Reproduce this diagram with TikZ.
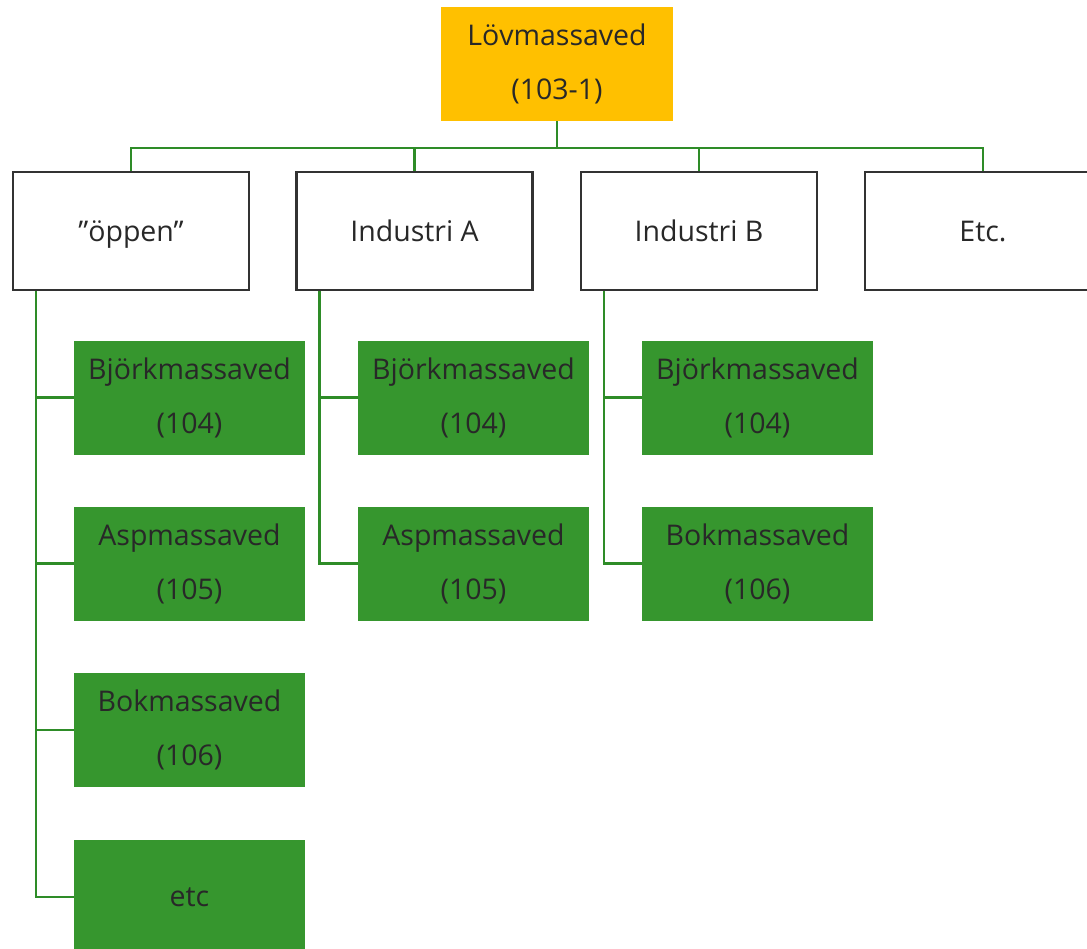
\documentclass[tikz,border=0pt]{standalone}
\usepackage{fontspec}
\setmainfont{Open Sans}
\definecolor{topfill}{RGB}{255,192,0}
\definecolor{leaffill}{RGB}{54,150,46}
\definecolor{linegreen}{RGB}{46,140,40}
\definecolor{boxline}{RGB}{50,50,50}
\definecolor{txt}{RGB}{40,40,40}
\begin{document}
\begin{tikzpicture}[x=1pt,y=-1pt,
  every node/.style={font=\fontsize{28.5}{54}\selectfont, text=txt, align=center, inner sep=0pt},
  topbox/.style={fill=topfill, minimum width=232pt, minimum height=114pt},
  midbox/.style={draw=boxline, line width=2.5pt, fill=white, minimum width=236pt, minimum height=118pt, text height=20.5pt, text depth=0pt},
  leafbox/.style={fill=leaffill, minimum width=231pt, minimum height=114pt},
  conn/.style={draw=linegreen, line width=2.5pt}]
\useasboundingbox (0,0) rectangle (1087,948);
\node[topbox] (top) at (557,64) {Lövmassaved\\(103-1)};
\node[midbox] (b1) at (131,231) {”öppen”};
\node[midbox] (b2) at (414.5,231) {Industri A};
\node[midbox] (b3) at (699,231) {Industri B};
\node[midbox] (b4) at (983,231) {Etc.};
\node[leafbox] (g11) at (189.5,397.5) {Björkmassaved\\(104)};
\node[leafbox] (g12) at (189.5,563.5) {Aspmassaved\\(105)};
\node[leafbox] (g13) at (189.5,730) {Bokmassaved\\(106)};
\node[leafbox] (g14) at (189.5,897) {etc};
\node[leafbox] (g21) at (473.5,397.5) {Björkmassaved\\(104)};
\node[leafbox] (g22) at (473.5,563.5) {Aspmassaved\\(105)};
\node[leafbox] (g31) at (757.5,397.5) {Björkmassaved\\(104)};
\node[leafbox] (g32) at (757.5,563.5) {Bokmassaved\\(106)};
\foreach \b in {b1,b2,b3,b4}
  \draw[conn] (top.south) -- ++(0,27) -| (\b.north);
\foreach \g in {g11,g12,g13,g14}
  \draw[conn] ([xshift=24pt]b1.south west) |- (\g.west);
\foreach \g in {g21,g22}
  \draw[conn] ([xshift=24pt]b2.south west) |- (\g.west);
\foreach \g in {g31,g32}
  \draw[conn] ([xshift=24pt]b3.south west) |- (\g.west);
\end{tikzpicture}
\end{document}
